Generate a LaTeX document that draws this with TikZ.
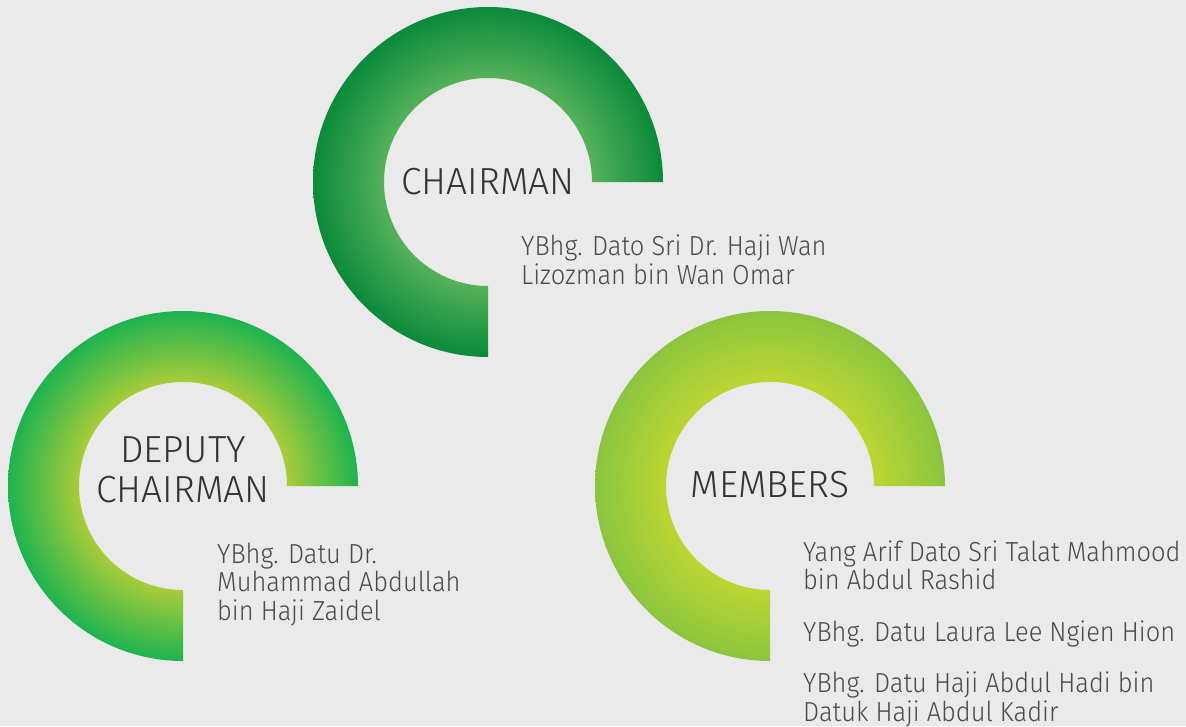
\documentclass[tikz,border=0pt]{standalone}
\usepackage{fontspec}
\newfontfamily\hfont{Fira Sans Light}[FakeStretch=0.985]
\newfontfamily\nfont{Fira Sans Light}[FakeStretch=0.925]
\definecolor{bg}{HTML}{EAEAEA}
\definecolor{chIn}{HTML}{55B15A}
\definecolor{chOut}{HTML}{0A8A3A}
\definecolor{dpIn}{HTML}{A8CC3A}
\definecolor{dpOut}{HTML}{1DB350}
\definecolor{mbIn}{HTML}{BCD632}
\definecolor{mbOut}{HTML}{8AC53F}
\definecolor{headc}{HTML}{333333}
\definecolor{namec}{HTML}{4A4A4A}
\pgfdeclareradialshading{chsh}{\pgfpoint{0bp}{0bp}}{color(0bp)=(chIn); color(14.86bp)=(chIn); color(25bp)=(chOut); color(50bp)=(chOut)}
\pgfdeclareradialshading{dpsh}{\pgfpoint{0bp}{0bp}}{color(0bp)=(dpIn); color(14.86bp)=(dpIn); color(25bp)=(dpOut); color(50bp)=(dpOut)}
\pgfdeclareradialshading{mbsh}{\pgfpoint{0bp}{0bp}}{color(0bp)=(mbIn); color(14.86bp)=(mbIn); color(25bp)=(mbOut); color(50bp)=(mbOut)}
\newcommand{\ringpath}[2]{%
  (#1,#2) ++(175,0) arc[start angle=0,end angle=-270,radius=175]
  -- ++(0,-71) arc[start angle=-270,end angle=0,radius=104] -- cycle}
\tikzset{
  heading/.style={font=\hfont\fontsize{37.7}{40}\selectfont, text=headc, inner sep=0pt, align=center},
  names/.style={font=\nfont\fontsize{27.5}{28.5}\selectfont, text=namec, inner sep=0pt, align=left, anchor=base west},
}
\begin{document}
\begin{tikzpicture}[x=1pt,y=-1pt]
\fill[bg] (0,0) rectangle (1186,726);
\useasboundingbox (0,0) rectangle (1186,726);
% rings
\shade[shading=chsh] \ringpath{488}{182};
\shade[shading=dpsh] \ringpath{183}{486};
\shade[shading=mbsh] \ringpath{770}{486};
% headings
\node[heading, anchor=base] (hch) at (488,194) {CHAIRMAN};
\node[heading, anchor=base] (hdp1) at (183,462) {DEPUTY};
\node[heading, anchor=base] (hdp2) at (183,502) {CHAIRMAN};
\node[heading, anchor=base] (hmb) at (770,497) {MEMBERS};
% names (base anchor = baseline of the last line)
\node[names] (nch) at (521,284) {YBhg. Dato Sri Dr. Haji Wan\\Lizozman bin Wan Omar};
\node[names] (ndp) at (217,620) {YBhg. Datu Dr.\\Muhammad Abdullah\\bin Haji Zaidel};
\node[names] (nmb) at (803,721) {Yang Arif Dato Sri Talat Mahmood\\bin Abdul Rashid\\[23pt]YBhg. Datu Laura Lee Ngien Hion\\[23pt]YBhg. Datu Haji Abdul Hadi bin\\Datuk Haji Abdul Kadir};
\end{tikzpicture}
\end{document}
